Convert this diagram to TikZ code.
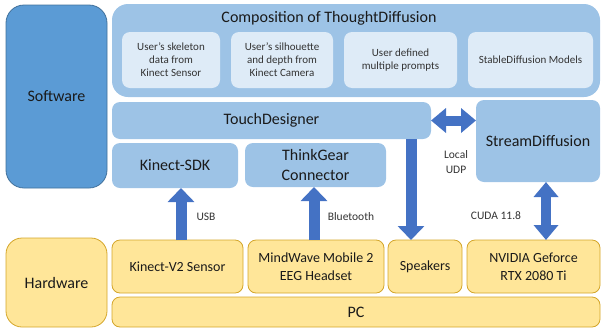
\documentclass[tikz,border=0pt]{standalone}
\usepackage{fontspec}
\setmainfont{Carlito}
\usetikzlibrary{arrows.meta}
\definecolor{swblue}{HTML}{5B9BD5}
\definecolor{swborder}{HTML}{41719C}
\definecolor{lblue}{HTML}{9DC3E6}
\definecolor{iblue}{HTML}{DEEBF7}
\definecolor{yel}{HTML}{FFE699}
\definecolor{yelborder}{HTML}{D4A62A}
\definecolor{arrblue}{HTML}{4472C4}
\definecolor{txt}{HTML}{1A1A1A}
\definecolor{itxt}{HTML}{333333}
\begin{document}
\begin{tikzpicture}[x=1pt,y=-1pt,
  box/.style={anchor=north west, inner sep=2pt, outer sep=0pt, align=center, text=txt},
  swbox/.style={box, fill=swblue, draw=swborder, line width=0.8pt, rounded corners=18pt, font=\fontsize{16}{19}\selectfont},
  compbox/.style={box, fill=lblue, rounded corners=16pt},
  lbox/.style={box, fill=lblue, rounded corners=8pt, font=\fontsize{16}{19.5}\selectfont},
  ibox/.style={box, fill=iblue, rounded corners=8pt, text=itxt, font=\fontsize{11}{13}\selectfont},
  hwbox/.style={box, fill=yel, draw=yelborder, line width=0.8pt, rounded corners=8pt, font=\fontsize{14}{17.5}\selectfont},
  hwbig/.style={hwbox, rounded corners=16pt, font=\fontsize{16}{19}\selectfont},
  lab/.style={font=\fontsize{11.5}{14}\selectfont, text=itxt, inner sep=0pt},
  barrow/.style={draw=arrblue, line width=11pt, -{Triangle[length=14pt,width=26pt]}},
  dbarrow/.style={draw=arrblue, line width=10pt, {Triangle[length=15pt,width=24pt]}-{Triangle[length=15pt,width=24pt]}}
]
\useasboundingbox (0,0) rectangle (601,327);
% software side
\node[swbox, minimum width=101pt, minimum height=183pt] (sw) at (6,5) {Software};
\node[compbox, minimum width=488pt, minimum height=93pt] (comp) at (112,4) {};
\node[font=\fontsize{16}{19}\selectfont, text=txt, inner sep=0pt] (ctitle) at (329,18) {Composition of ThoughtDiffusion};
\node[ibox, minimum width=98pt, minimum height=56pt] (i1) at (122,32) {User’s skeleton\\data from\\Kinect Sensor};
\node[ibox, minimum width=102pt, minimum height=56pt] (i2) at (231,32) {User’s silhouette\\and depth from\\Kinect Camera};
\node[ibox, minimum width=113pt, minimum height=56pt] (i3) at (344,32) {User defined\\multiple prompts};
\node[ibox, minimum width=125pt, minimum height=56pt] (i4) at (468,32) {StableDiffusion Models};
\node[lbox, minimum width=319pt, minimum height=37pt] (td) at (112,102) {TouchDesigner};
\node[lbox, minimum width=124pt, minimum height=82pt] (sd) at (476,100) {StreamDiffusion};
\node[lbox, minimum width=126pt, minimum height=45pt] (ksdk) at (112,143) {Kinect-SDK};
\node[lbox, minimum width=141pt, minimum height=44pt] (tg) at (245,143) {ThinkGear\\Connector};
% hardware side
\node[hwbig, minimum width=101pt, minimum height=89pt] (hw) at (6,238) {Hardware};
\node[hwbox, minimum width=131pt, minimum height=53pt] (kv2) at (112,240) {Kinect-V2 Sensor};
\node[hwbox, minimum width=136pt, minimum height=53pt] (mw) at (248,240) {MindWave Mobile 2\\EEG Headset};
\node[hwbox, minimum width=74pt, minimum height=53pt] (spk) at (388,240) {Speakers};
\node[hwbox, minimum width=133pt, minimum height=53pt] (nv) at (467,240) {NVIDIA Geforce\\RTX 2080 Ti};
\node[hwbox, minimum width=488pt, minimum height=30pt, font=\fontsize{16}{19}\selectfont] (pc) at (112,297) {PC};
% arrows
\draw[barrow] ([xshift=3.5pt]kv2.north) -- ([xshift=3.5pt]kv2.north |- ksdk.south);
\draw[barrow] ([xshift=-2pt]mw.north) -- ([xshift=-2pt]mw.north |- tg.south);
\draw[barrow] ([xshift=-14pt]spk.north |- td.south) -- ([xshift=-14pt]spk.north);
\draw[dbarrow] ([xshift=12.5pt]nv.north) -- ([xshift=12.5pt]nv.north |- sd.south);
\draw[dbarrow] (td.east) -- (td.east -| sd.west);
% labels
\node[lab] (usb) at (206,217) {USB};
\node[lab] (bt) at (351,217) {Bluetooth};
\node[lab] (cuda) at (496,216) {CUDA 11.8};
\node[lab] (local) at (456,155) {Local};
\node[lab] (udp) at (456,170) {UDP};
\end{tikzpicture}
\end{document}
